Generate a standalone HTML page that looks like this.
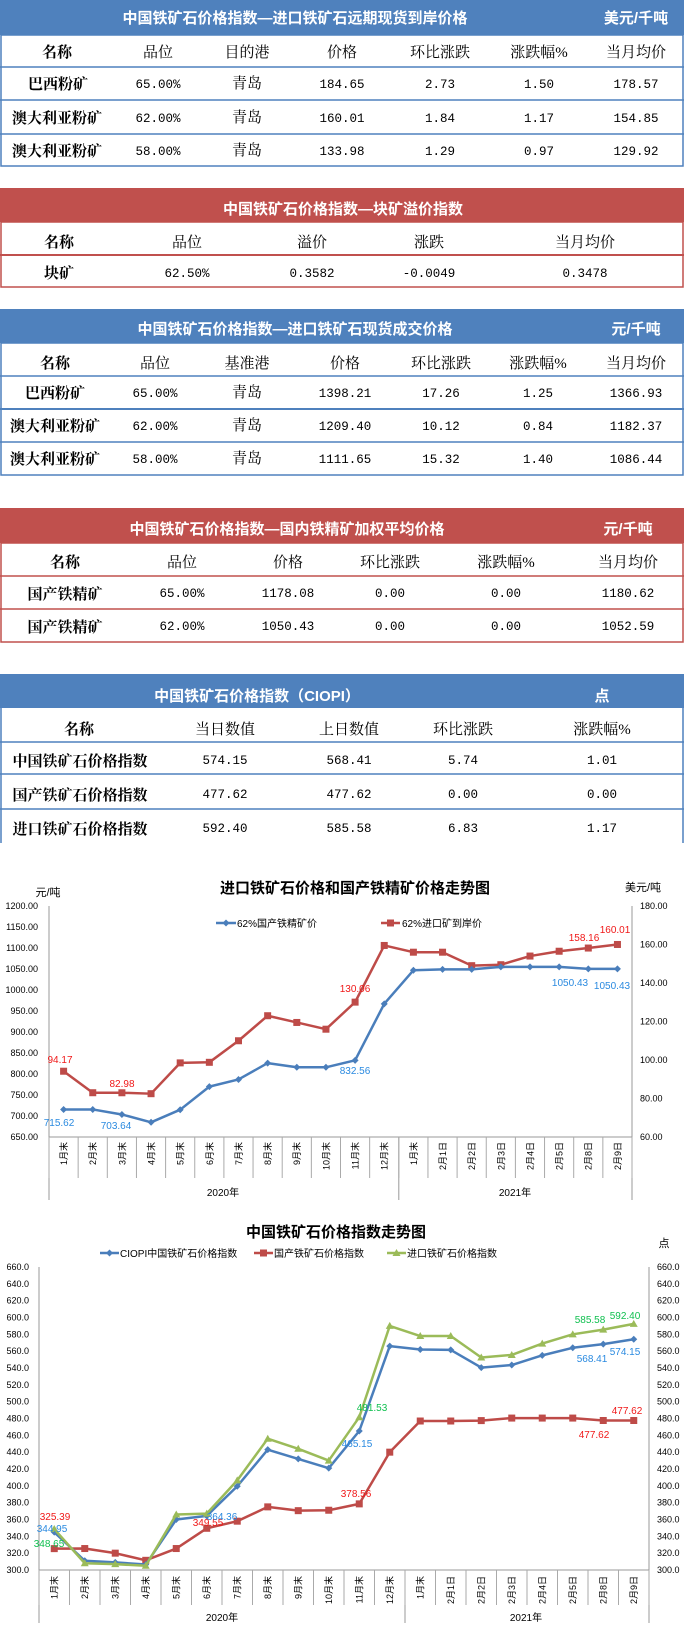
<!DOCTYPE html>
<html><head><meta charset="utf-8"><style>
html,body{margin:0;padding:0;background:#fff;width:684px;height:1630px;overflow:hidden}
svg{display:block}
.ti{font-family:"Liberation Sans","Noto Sans CJK SC",sans-serif;font-weight:bold;font-size:15px;fill:#fff}
.hd{font-family:"Liberation Serif","Noto Serif CJK SC",serif;font-size:15px;fill:#000}
.nm{font-family:"Liberation Serif","Noto Serif CJK SC",serif;font-weight:bold;font-size:15px;fill:#000}
.nu{font-family:"Liberation Mono","Noto Sans CJK SC",monospace;font-size:12.5px;fill:#000}
.ct{font-family:"Liberation Sans","Noto Sans CJK SC",sans-serif;font-weight:bold;font-size:15px;fill:#000}
.ax{font-family:"Liberation Sans","Noto Sans CJK SC",sans-serif;font-size:9px;fill:#000}
.lg{font-family:"Liberation Sans","Noto Sans CJK SC",sans-serif;font-size:10px;fill:#000}
.cat{font-family:"Liberation Sans","Noto Sans CJK SC",sans-serif;font-size:9px;fill:#000}
.lr{font-family:"Liberation Sans",sans-serif;font-size:10px;fill:#f01818}
.lb{font-family:"Liberation Sans",sans-serif;font-size:10px;fill:#2a8ae0}
.lgn{font-family:"Liberation Sans",sans-serif;font-size:10px;fill:#10c050}
</style></head><body>
<svg id="s" width="684" height="1630" viewBox="0 0 684 1630" xmlns="http://www.w3.org/2000/svg">
<!-- Table 1 -->
<rect x="0" y="0" width="684" height="35" fill="#4F81BD"/>
<rect x="1" y="35" width="682" height="131" fill="none" stroke="#4F81BD" stroke-width="1.5"/>
<g stroke="#4F81BD" stroke-width="1.5"><line x1="0" y1="67" x2="684" y2="67"/><line x1="0" y1="100" x2="684" y2="100"/><line x1="0" y1="134" x2="684" y2="134"/></g>
<text class="ti" x="295" y="23" text-anchor="middle">中国铁矿石价格指数—进口铁矿石远期现货到岸价格</text>
<text class="ti" x="636" y="23" text-anchor="middle">美元/千吨</text>
<g class="hd" text-anchor="middle"><text class="nm" x="57" y="57">名称</text><text x="158" y="57">品位</text><text x="247" y="57">目的港</text><text x="342" y="57">价格</text><text x="440" y="57">环比涨跌</text><text x="539" y="57">涨跌幅%</text><text x="636" y="57">当月均价</text></g>
<g class="nu" text-anchor="middle">
<text class="nm" x="58" y="89">巴西粉矿</text><text x="158" y="88">65.00%</text><text class="hd" x="247" y="88">青岛</text><text x="342" y="88">184.65</text><text x="440" y="88">2.73</text><text x="539" y="88">1.50</text><text x="636" y="88">178.57</text>
<text class="nm" x="57" y="123">澳大利亚粉矿</text><text x="158" y="122">62.00%</text><text class="hd" x="247" y="122">青岛</text><text x="342" y="122">160.01</text><text x="440" y="122">1.84</text><text x="539" y="122">1.17</text><text x="636" y="122">154.85</text>
<text class="nm" x="57" y="156">澳大利亚粉矿</text><text x="158" y="155">58.00%</text><text class="hd" x="247" y="155">青岛</text><text x="342" y="155">133.98</text><text x="440" y="155">1.29</text><text x="539" y="155">0.97</text><text x="636" y="155">129.92</text>
</g>
<!-- Table 2 -->
<rect x="0" y="188" width="684" height="34" fill="#C0504D"/>
<rect x="1" y="222" width="682" height="65" fill="none" stroke="#C0504D" stroke-width="1.5"/>
<line x1="0" y1="255" x2="684" y2="255" stroke="#C0504D" stroke-width="2"/>
<text class="ti" x="343" y="214" text-anchor="middle">中国铁矿石价格指数—块矿溢价指数</text>
<g class="hd" text-anchor="middle"><text class="nm" x="59" y="247">名称</text><text x="187" y="247">品位</text><text x="312" y="247">溢价</text><text x="429" y="247">涨跌</text><text x="585" y="247">当月均价</text></g>
<g class="nu" text-anchor="middle"><text class="nm" x="59" y="278">块矿</text><text x="187" y="277">62.50%</text><text x="312" y="277">0.3582</text><text x="429" y="277">-0.0049</text><text x="585" y="277">0.3478</text></g>
<!-- Table 3 -->
<rect x="0" y="309" width="684" height="34" fill="#4F81BD"/>
<rect x="1" y="343" width="682" height="132" fill="none" stroke="#4F81BD" stroke-width="1.5"/>
<g stroke="#4F81BD" stroke-width="1.5"><line x1="0" y1="376" x2="684" y2="376"/><line x1="0" y1="409" x2="684" y2="409" stroke-width="2"/><line x1="0" y1="442" x2="684" y2="442"/></g>
<text class="ti" x="295" y="334" text-anchor="middle">中国铁矿石价格指数—进口铁矿石现货成交价格</text>
<text class="ti" x="636" y="334" text-anchor="middle">元/千吨</text>
<g class="hd" text-anchor="middle"><text class="nm" x="55" y="368">名称</text><text x="155" y="368">品位</text><text x="247" y="368">基准港</text><text x="345" y="368">价格</text><text x="441" y="368">环比涨跌</text><text x="538" y="368">涨跌幅%</text><text x="636" y="368">当月均价</text></g>
<g class="nu" text-anchor="middle">
<text class="nm" x="55" y="398">巴西粉矿</text><text x="155" y="397">65.00%</text><text class="hd" x="247" y="397">青岛</text><text x="345" y="397">1398.21</text><text x="441" y="397">17.26</text><text x="538" y="397">1.25</text><text x="636" y="397">1366.93</text>
<text class="nm" x="55" y="431">澳大利亚粉矿</text><text x="155" y="430">62.00%</text><text class="hd" x="247" y="430">青岛</text><text x="345" y="430">1209.40</text><text x="441" y="430">10.12</text><text x="538" y="430">0.84</text><text x="636" y="430">1182.37</text>
<text class="nm" x="55" y="464">澳大利亚粉矿</text><text x="155" y="463">58.00%</text><text class="hd" x="247" y="463">青岛</text><text x="345" y="463">1111.65</text><text x="441" y="463">15.32</text><text x="538" y="463">1.40</text><text x="636" y="463">1086.44</text>
</g>
<!-- Table 4 -->
<rect x="0" y="508" width="684" height="35" fill="#C0504D"/>
<rect x="1" y="543" width="682" height="99" fill="none" stroke="#C0504D" stroke-width="1.5"/>
<g stroke="#C0504D" stroke-width="1.5"><line x1="0" y1="576" x2="684" y2="576"/><line x1="0" y1="609" x2="684" y2="609"/></g>
<text class="ti" x="287" y="534" text-anchor="middle">中国铁矿石价格指数—国内铁精矿加权平均价格</text>
<text class="ti" x="628" y="534" text-anchor="middle">元/千吨</text>
<g class="hd" text-anchor="middle"><text class="nm" x="65" y="567">名称</text><text x="182" y="567">品位</text><text x="288" y="567">价格</text><text x="390" y="567">环比涨跌</text><text x="506" y="567">涨跌幅%</text><text x="628" y="567">当月均价</text></g>
<g class="nu" text-anchor="middle">
<text class="nm" x="65" y="599">国产铁精矿</text><text x="182" y="597">65.00%</text><text x="288" y="597">1178.08</text><text x="390" y="597">0.00</text><text x="506" y="597">0.00</text><text x="628" y="597">1180.62</text>
<text class="nm" x="65" y="632">国产铁精矿</text><text x="182" y="630">62.00%</text><text x="288" y="630">1050.43</text><text x="390" y="630">0.00</text><text x="506" y="630">0.00</text><text x="628" y="630">1052.59</text>
</g>
<!-- Table 5 -->
<rect x="0" y="674" width="684" height="34" fill="#4F81BD"/>
<g stroke="#4F81BD" stroke-width="1.5"><line x1="1" y1="708" x2="1" y2="843"/><line x1="683" y1="708" x2="683" y2="843"/><line x1="0" y1="742" x2="684" y2="742"/><line x1="0" y1="774" x2="684" y2="774"/><line x1="0" y1="809" x2="684" y2="809"/></g>
<text class="ti" x="257" y="701" text-anchor="middle">中国铁矿石价格指数（CIOPI）</text>
<text class="ti" x="602" y="701" text-anchor="middle">点</text>
<g class="hd" text-anchor="middle"><text class="nm" x="79" y="734">名称</text><text x="225" y="734">当日数值</text><text x="349" y="734">上日数值</text><text x="463" y="734">环比涨跌</text><text x="602" y="734">涨跌幅%</text></g>
<g class="nu" text-anchor="middle">
<text class="nm" x="80" y="766">中国铁矿石价格指数</text><text x="225" y="764">574.15</text><text x="349" y="764">568.41</text><text x="463" y="764">5.74</text><text x="602" y="764">1.01</text>
<text class="nm" x="80" y="800">国产铁矿石价格指数</text><text x="225" y="798">477.62</text><text x="349" y="798">477.62</text><text x="463" y="798">0.00</text><text x="602" y="798">0.00</text>
<text class="nm" x="80" y="834">进口铁矿石价格指数</text><text x="225" y="832">592.40</text><text x="349" y="832">585.58</text><text x="463" y="832">6.83</text><text x="602" y="832">1.17</text>
</g>

<!-- Chart 1 -->
<text class="ct" x="355" y="893" text-anchor="middle">进口铁矿石价格和国产铁精矿价格走势图</text>
<text class="lg" x="48" y="896" text-anchor="middle" style="font-size:11px">元/吨</text>
<text class="lg" x="643" y="891" text-anchor="middle" style="font-size:11px">美元/吨</text>
<g stroke="#999" stroke-width="1" fill="none">
<line x1="49" y1="906" x2="49" y2="1200"/><line x1="632" y1="906" x2="632" y2="1200"/><line x1="49" y1="1137" x2="632" y2="1137"/>
<line x1="398.8" y1="1137" x2="398.8" y2="1200"/>
</g>
<g id="c1t"></g>
<g class="ax" text-anchor="end">
<text x="38" y="909">1200.00</text><text x="38" y="930">1150.00</text><text x="38" y="951">1100.00</text><text x="38" y="972">1050.00</text><text x="38" y="993">1000.00</text><text x="38" y="1014">950.00</text><text x="38" y="1035">900.00</text><text x="38" y="1056">850.00</text><text x="38" y="1077">800.00</text><text x="38" y="1098">750.00</text><text x="38" y="1119">700.00</text><text x="38" y="1140">650.00</text>
</g>
<g class="ax" text-anchor="start">
<text x="640" y="909">180.00</text><text x="640" y="947.5">160.00</text><text x="640" y="986">140.00</text><text x="640" y="1024.5">120.00</text><text x="640" y="1063">100.00</text><text x="640" y="1101.5">80.00</text><text x="640" y="1140">60.00</text>
</g>
<g class="cat" text-anchor="end">
<text transform="translate(67,1142) rotate(-90)">1月末</text><text transform="translate(96.2,1142) rotate(-90)">2月末</text><text transform="translate(125.3,1142) rotate(-90)">3月末</text><text transform="translate(154.5,1142) rotate(-90)">4月末</text><text transform="translate(183.6,1142) rotate(-90)">5月末</text><text transform="translate(212.8,1142) rotate(-90)">6月末</text><text transform="translate(241.9,1142) rotate(-90)">7月末</text><text transform="translate(271.1,1142) rotate(-90)">8月末</text><text transform="translate(300.2,1142) rotate(-90)">9月末</text><text transform="translate(329.4,1142) rotate(-90)">10月末</text><text transform="translate(358.5,1142) rotate(-90)">11月末</text><text transform="translate(387.7,1142) rotate(-90)">12月末</text><text transform="translate(416.8,1142) rotate(-90)">1月末</text><text transform="translate(446,1142) rotate(-90)">2月1日</text><text transform="translate(475.1,1142) rotate(-90)">2月2日</text><text transform="translate(504.3,1142) rotate(-90)">2月3日</text><text transform="translate(533.4,1142) rotate(-90)">2月4日</text><text transform="translate(562.6,1142) rotate(-90)">2月5日</text><text transform="translate(591.7,1142) rotate(-90)">2月8日</text><text transform="translate(620.9,1142) rotate(-90)">2月9日</text>
</g>
<text class="lg" x="223" y="1196" text-anchor="middle">2020年</text>
<text class="lg" x="515" y="1196" text-anchor="middle">2021年</text>
<line x1="216" y1="923" x2="236" y2="923" stroke="#4A7EBB" stroke-width="2.5"/><path d="M226 919.5 L229.5 923 L226 926.5 L222.5 923Z" fill="#4A7EBB"/>
<text class="lg" x="237" y="927">62%国产铁精矿价</text>
<line x1="381" y1="923" x2="400" y2="923" stroke="#BE4B48" stroke-width="2.5"/><rect x="387" y="919.5" width="7" height="7" fill="#BE4B48"/>
<text class="lg" x="402" y="927">62%进口矿到岸价</text>
<g id="c1"></g>
<text class="lr" x="60" y="1063" text-anchor="middle">94.17</text>
<text class="lr" x="122" y="1087" text-anchor="middle">82.98</text>
<text class="lr" x="355" y="992" text-anchor="middle">130.06</text>
<text class="lr" x="584" y="941" text-anchor="middle">158.16</text>
<text class="lr" x="615" y="933" text-anchor="middle">160.01</text>
<text class="lb" x="59" y="1126" text-anchor="middle">715.62</text>
<text class="lb" x="116" y="1129" text-anchor="middle">703.64</text>
<text class="lb" x="355" y="1074" text-anchor="middle">832.56</text>
<text class="lb" x="570" y="986" text-anchor="middle">1050.43</text>
<text class="lb" x="612" y="989" text-anchor="middle">1050.43</text>

<!-- Chart 2 -->
<text class="ct" x="336" y="1237" text-anchor="middle">中国铁矿石价格指数走势图</text>
<text class="lg" x="664" y="1247" text-anchor="middle" style="font-size:11px">点</text>
<line x1="100" y1="1253" x2="119" y2="1253" stroke="#4A7EBB" stroke-width="2.5"/><path d="M109.5 1249.5 L113 1253 L109.5 1256.5 L106 1253Z" fill="#4A7EBB"/>
<text class="lg" x="120" y="1257">CIOPI中国铁矿石价格指数</text>
<line x1="254" y1="1253" x2="273" y2="1253" stroke="#BE4B48" stroke-width="2.5"/><rect x="260" y="1249.5" width="7" height="7" fill="#BE4B48"/>
<text class="lg" x="274" y="1257">国产铁矿石价格指数</text>
<line x1="387" y1="1253" x2="406" y2="1253" stroke="#9BBB59" stroke-width="2.5"/><path d="M396.5 1249 L400.5 1256 L392.5 1256Z" fill="#9BBB59"/>
<text class="lg" x="407" y="1257">进口铁矿石价格指数</text>
<g stroke="#999" stroke-width="1" fill="none">
<line x1="39" y1="1267" x2="39" y2="1623"/><line x1="649" y1="1267" x2="649" y2="1623"/><line x1="39" y1="1570" x2="649" y2="1570"/>
<line x1="405" y1="1570" x2="405" y2="1623"/>
</g>
<g id="c2t"></g>
<g class="ax" text-anchor="end">
<text x="29" y="1270">660.0</text><text x="29" y="1286.8">640.0</text><text x="29" y="1303.7">620.0</text><text x="29" y="1320.5">600.0</text><text x="29" y="1337.3">580.0</text><text x="29" y="1354.2">560.0</text><text x="29" y="1371">540.0</text><text x="29" y="1387.8">520.0</text><text x="29" y="1404.7">500.0</text><text x="29" y="1421.5">480.0</text><text x="29" y="1438.3">460.0</text><text x="29" y="1455.2">440.0</text><text x="29" y="1472">420.0</text><text x="29" y="1488.8">400.0</text><text x="29" y="1505.7">380.0</text><text x="29" y="1522.5">360.0</text><text x="29" y="1539.3">340.0</text><text x="29" y="1556.2">320.0</text><text x="29" y="1573">300.0</text>
</g>
<g class="ax" text-anchor="start">
<text x="657" y="1270">660.0</text><text x="657" y="1286.8">640.0</text><text x="657" y="1303.7">620.0</text><text x="657" y="1320.5">600.0</text><text x="657" y="1337.3">580.0</text><text x="657" y="1354.2">560.0</text><text x="657" y="1371">540.0</text><text x="657" y="1387.8">520.0</text><text x="657" y="1404.7">500.0</text><text x="657" y="1421.5">480.0</text><text x="657" y="1438.3">460.0</text><text x="657" y="1455.2">440.0</text><text x="657" y="1472">420.0</text><text x="657" y="1488.8">400.0</text><text x="657" y="1505.7">380.0</text><text x="657" y="1522.5">360.0</text><text x="657" y="1539.3">340.0</text><text x="657" y="1556.2">320.0</text><text x="657" y="1573">300.0</text>
</g>
<g class="cat" text-anchor="end">
<text transform="translate(57.5,1576) rotate(-90)">1月末</text><text transform="translate(88,1576) rotate(-90)">2月末</text><text transform="translate(118.5,1576) rotate(-90)">3月末</text><text transform="translate(149,1576) rotate(-90)">4月末</text><text transform="translate(179.5,1576) rotate(-90)">5月末</text><text transform="translate(210,1576) rotate(-90)">6月末</text><text transform="translate(240.5,1576) rotate(-90)">7月末</text><text transform="translate(271,1576) rotate(-90)">8月末</text><text transform="translate(301.5,1576) rotate(-90)">9月末</text><text transform="translate(332,1576) rotate(-90)">10月末</text><text transform="translate(362.5,1576) rotate(-90)">11月末</text><text transform="translate(393,1576) rotate(-90)">12月末</text><text transform="translate(423.5,1576) rotate(-90)">1月末</text><text transform="translate(454,1576) rotate(-90)">2月1日</text><text transform="translate(484.5,1576) rotate(-90)">2月2日</text><text transform="translate(515,1576) rotate(-90)">2月3日</text><text transform="translate(545.5,1576) rotate(-90)">2月4日</text><text transform="translate(576,1576) rotate(-90)">2月5日</text><text transform="translate(606.5,1576) rotate(-90)">2月8日</text><text transform="translate(637,1576) rotate(-90)">2月9日</text>
</g>
<text class="lg" x="222" y="1621" text-anchor="middle">2020年</text>
<text class="lg" x="526" y="1621" text-anchor="middle">2021年</text>
<g id="c2"></g>
<text class="lr" x="55" y="1520" text-anchor="middle">325.39</text>
<text class="lb" x="52" y="1532" text-anchor="middle">344.95</text>
<text class="lgn" x="49" y="1547" text-anchor="middle">348.65</text>
<text class="lr" x="208" y="1526" text-anchor="middle">349.55</text>
<text class="lb" x="222" y="1520" text-anchor="middle">364.36</text>
<text class="lgn" x="372" y="1411" text-anchor="middle">481.53</text>
<text class="lb" x="357" y="1447" text-anchor="middle">465.15</text>
<text class="lr" x="356" y="1497" text-anchor="middle">378.56</text>
<text class="lgn" x="590" y="1323" text-anchor="middle">585.58</text>
<text class="lgn" x="625" y="1319" text-anchor="middle">592.40</text>
<text class="lb" x="592" y="1362" text-anchor="middle">568.41</text>
<text class="lb" x="625" y="1355" text-anchor="middle">574.15</text>
<text class="lr" x="627" y="1414" text-anchor="middle">477.62</text>
<text class="lr" x="594" y="1438" text-anchor="middle">477.62</text>
</svg>
<script>
(function(){
var NS="http://www.w3.org/2000/svg";
function el(p,t,a){var e=document.createElementNS(NS,t);for(var k in a)e.setAttribute(k,a[k]);p.appendChild(e);return e;}
function ser(g,xs,ys,col,mk){
  el(g,"polyline",{points:xs.map(function(x,i){return x+","+ys[i];}).join(" "),fill:"none",stroke:col,"stroke-width":2.5,"stroke-linejoin":"round"});
  xs.forEach(function(x,i){var y=ys[i];
    if(mk=="d")el(g,"path",{d:"M"+x+" "+(y-3.5)+"L"+(x+3.5)+" "+y+"L"+x+" "+(y+3.5)+"L"+(x-3.5)+" "+y+"Z",fill:col});
    else if(mk=="s")el(g,"rect",{x:x-3.5,y:y-3.5,width:7,height:7,fill:col});
    else el(g,"path",{d:"M"+x+" "+(y-4)+"L"+(x+4)+" "+(y+3)+"L"+(x-4)+" "+(y+3)+"Z",fill:col});
  });
}
// chart1
var t1=document.getElementById("c1t"),g1=document.getElementById("c1");
for(var i=0;i<=20;i++){var x=49+29.15*i;el(t1,"line",{x1:x,y1:1137,x2:x,y2:1178,stroke:"#aaa","stroke-width":1});}
var x1=[];for(i=0;i<20;i++)x1.push(63.6+29.15*i);
var blue=[715.62,715.6,703.64,685,715,770,787,826,816,816,832.56,967,1047,1049,1049,1055,1055,1055,1050.43,1050.43];
var red=[94.17,83,82.98,82.5,98.5,98.8,110,123,119.5,116,130.06,159.5,156,156,149,149.5,154,156.5,158.16,160.01];
ser(g1,x1,red.map(function(v){return 1137-(v-60)*1.925;}),"#BE4B48","s");
ser(g1,x1,blue.map(function(v){return 1137-(v-650)*0.42;}),"#4A7EBB","d");
// chart2
var t2=document.getElementById("c2t"),g2=document.getElementById("c2");
for(i=0;i<=20;i++){var xx=39+30.5*i;el(t2,"line",{x1:xx,y1:1570,x2:xx,y2:1605,stroke:"#aaa","stroke-width":1});}
var x2=[];for(i=0;i<20;i++)x2.push(54.25+30.5*i);
function y2(v){return 1570-(v-300)*0.8417;}
var cb=[344.95,311,309,306.5,360,364.36,399.5,443,432,421,465.15,566,562,561.5,540.5,543.5,555,564,568.41,574.15];
var cr=[325.39,325.5,320,311.5,325.5,349.55,358,375,370.5,371,378.56,440,477,477,477.5,480.5,480.5,480.5,477.62,477.62];
var cg=[348.65,308,307,305,366,367,406.5,456,444,430,481.53,590,578,578,552.5,555.5,569,580,585.58,592.40];
ser(g2,x2,cr.map(y2),"#BE4B48","s");
ser(g2,x2,cb.map(y2),"#4A7EBB","d");
ser(g2,x2,cg.map(y2),"#9BBB59","t");
})();
</script>
</body></html>
